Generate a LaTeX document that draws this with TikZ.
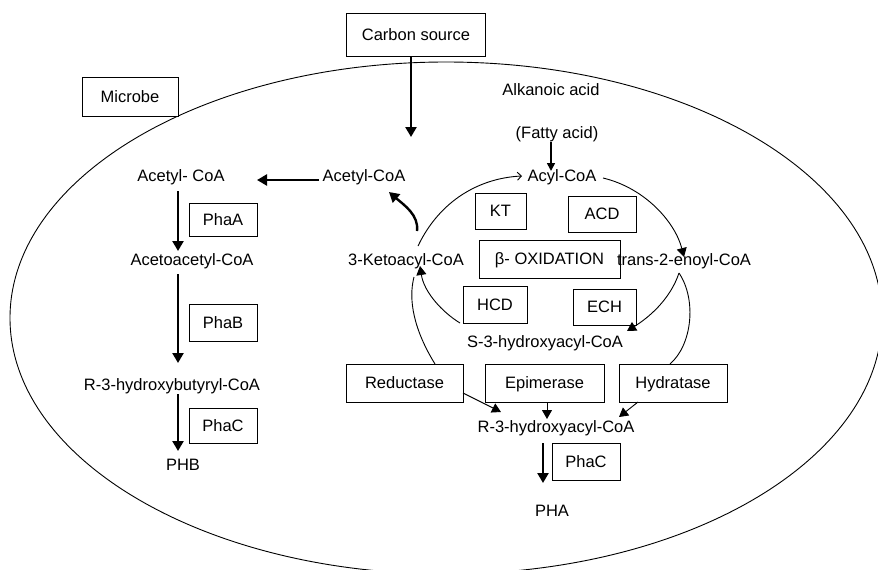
\documentclass[tikz,border=0pt]{standalone}
\usepackage{fontspec}
\setmainfont{Liberation Sans}
\usetikzlibrary{arrows.meta}
\newcommand{\fs}{\fontsize{16.5}{19}\selectfont}
\begin{document}
\begin{tikzpicture}[x=1pt,y=-1pt,
  lbl/.style={inner sep=0pt,font=\fs,text height=11.8pt,text depth=0pt},
  box/.style={draw,line width=0.9pt,inner sep=0pt,font=\fs,fill=white,text height=11.8pt,text depth=0pt},
  thk/.style={line width=2.4pt,-{Triangle[length=10pt,width=11pt]}},
  thin/.style={line width=0.9pt},
  thinarr/.style={line width=0.9pt,-{Triangle[length=9pt,width=10pt]}},
  openarr/.style={line width=0.9pt,-{Straight Barb[length=4pt,width=8pt]}}]
\useasboundingbox (0,0) rectangle (878,570);
\fill[white] (0,0) rectangle (878,570);
\begin{scope}
\clip (0,0) rectangle (878,570);
\draw[line width=0.9pt] (446,318) ellipse [x radius=436, y radius=256];
\end{scope}

% boxes
\node[box,minimum width=139pt,minimum height=43pt] (carbon) at (416,34.5) {Carbon source};
\node[box,minimum width=96pt,minimum height=39pt] (microbe) at (130,96.5) {Microbe};
\node[box,minimum width=51pt,minimum height=36pt] (kt) at (500.5,211) {KT};
\node[box,minimum width=68pt,minimum height=36pt] (acd) at (602,214) {ACD};
\node[box,minimum width=141pt,minimum height=38pt] (beta) at (549.5,259) {β- OXIDATION};
\node[box,minimum width=64pt,minimum height=37pt] (hcd) at (495,304.5) {HCD};
\node[box,minimum width=63pt,minimum height=36pt] (ech) at (604.5,307) {ECH};
\node[box,minimum width=117pt,minimum height=38pt] (red) at (404.5,383) {Reductase};
\node[box,minimum width=119pt,minimum height=38pt] (epi) at (544.5,383) {Epimerase};
\node[box,minimum width=108pt,minimum height=38pt] (hyd) at (673,383) {Hydratase};
\node[box,minimum width=68pt,minimum height=37pt] (phacR) at (586,461.5) {PhaC};
\node[box,minimum width=68pt,minimum height=33pt] (phaa) at (223,219.5) {PhaA};
\node[box,minimum width=68pt,minimum height=37pt] (phab) at (223,322.5) {PhaB};
\node[box,minimum width=68pt,minimum height=35pt] (phacL) at (223,425.5) {PhaC};

% labels
\node[lbl] (alk) at (551,90) {Alkanoic acid};
\node[lbl] (fatty) at (557,133) {(Fatty acid)};
\node[lbl] (acyl) at (562,176) {Acyl-CoA};
\node[lbl] (acetR) at (364,176) {Acetyl-CoA};
\node[lbl] (acetL) at (181,176) {Acetyl- CoA};
\node[lbl] (acetoac) at (192,260) {Acetoacetyl-CoA};
\node[lbl] (rhb) at (172,385) {R-3-hydroxybutyryl-CoA};
\node[lbl] (phb) at (183,465) {PHB};
\node[lbl] (keto) at (406,260) {3-Ketoacyl-CoA};
\node[lbl] (trans) at (684,260) {trans-2-enoyl-CoA};
\node[lbl] (shydro) at (545,342) {S-3-hydroxyacyl-CoA};
\node[lbl] (rhydro) at (556,427) {R-3-hydroxyacyl-CoA};
\node[lbl] (pha) at (552,511) {PHA};

% named end points
\coordinate (csS) at (411,56);
\coordinate (csE) at (411,137);
\coordinate (faS) at (551,142);
\coordinate (faE) at (551,171);
\coordinate (acRw) at (319,180);
\coordinate (acLe) at (257,180);
\coordinate (l1s) at (178,191);
\coordinate (l1e) at (178,251);
\coordinate (l2s) at (178,274);
\coordinate (l2e) at (178,363);
\coordinate (l3s) at (178,394);
\coordinate (l3e) at (178,451);
\coordinate (r1s) at (543,443);
\coordinate (r1e) at (543,483);
\coordinate (acylE) at (603,178);
\coordinate (transN) at (684,257);
\coordinate (transS) at (679,273);
\coordinate (shE) at (627,331);
\coordinate (hydN) at (670,364);
\coordinate (hcdW) at (460,323);
\coordinate (ketoS) at (420,266);
\coordinate (redN) at (435,364);
\coordinate (ketoS2) at (414,277);
\coordinate (ketoN) at (418,246);
\coordinate (acylW) at (522,176);
\coordinate (gS) at (417,231);
\coordinate (gE) at (389,192);
\coordinate (redE) at (463,393);
\coordinate (rhW) at (501,412);
\coordinate (epiS) at (547,402);
\coordinate (rhN) at (547,419);
\coordinate (hydS) at (638,402);
\coordinate (rhE) at (619,417);

% thick arrows
\draw[thk] (csS) -- (csE);
\draw[line width=1.6pt,-{Triangle[length=8pt,width=8pt]}] (faS) -- (faE);
\draw[thk] (acRw) -- (acLe);
\draw[thk] (l1s) -- (l1e);
\draw[thk] (l2s) -- (l2e);
\draw[thk] (l3s) -- (178,420) -- (l3e);
\draw[thk] (r1s) -- (r1e);
\draw[thk] (gS) .. controls (419,215) and (404,205) .. (gE);

% cycle
\draw[thinarr] (acylE) .. controls (645,188) and (675,222) .. (transN);
\draw[thinarr] (transS) .. controls (670,300) and (648,318) .. (shE);
\draw[thin] (transS) .. controls (697,300) and (692,345) .. (hydN);
\draw[thinarr] (hcdW) .. controls (442,312) and (424,292) .. (ketoS);
\draw[thin] (redN) .. controls (414,330) and (408,300) .. (ketoS2);
\draw[openarr] (ketoN) .. controls (440,200) and (480,178) .. (acylW);

% to R-3-hydroxyacyl-CoA
\draw[thinarr] (redE) -- (rhW);
\draw[thinarr] (epiS) -- (rhN);
\draw[thinarr] (hydS) -- (rhE);
\end{tikzpicture}
\end{document}
